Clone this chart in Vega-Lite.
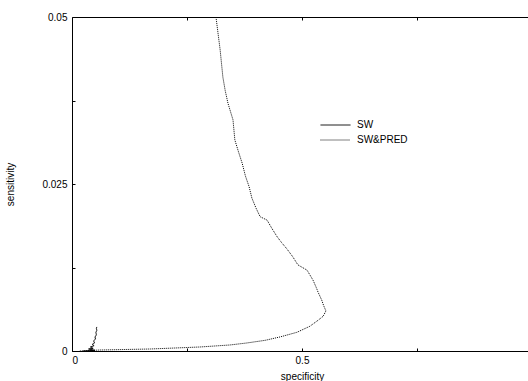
{
  "$schema": "https://vega.github.io/schema/vega-lite/v6.json",
  "width": 460,
  "height": 334,
  "autosize": {"type": "none"},
  "padding": {"left": 72, "top": 17, "right": 5, "bottom": 30},
  "background": "white",
  "config": {
    "view": {"stroke": "black", "strokeWidth": 1},
    "font": "Liberation Sans",
    "axis": {
      "domain": false,
      "grid": false,
      "ticks": true,
      "tickColor": "black",
      "tickSize": -3,
      "labelColor": "black",
      "labelFont": "Liberation Sans",
      "labelFontSize": 10,
      "titleFont": "Liberation Sans",
      "titleFontSize": 10,
      "titleFontWeight": "normal",
      "titleColor": "black"
    }
  },
  "data": {
    "values": [
      {"series": "SW", "order": 1, "specificity": 0.024, "sensitivity": 0.0},
      {"series": "SW", "order": 2, "specificity": 0.050, "sensitivity": 0.0001},
      {"series": "SW", "order": 3, "specificity": 0.036, "sensitivity": 0.0003},
      {"series": "SW", "order": 4, "specificity": 0.046, "sensitivity": 0.0004},
      {"series": "SW", "order": 5, "specificity": 0.040, "sensitivity": 0.0006},
      {"series": "SW", "order": 6, "specificity": 0.048, "sensitivity": 0.0008},
      {"series": "SW", "order": 7, "specificity": 0.044, "sensitivity": 0.0010},
      {"series": "SW", "order": 8, "specificity": 0.049, "sensitivity": 0.0012},
      {"series": "SW", "order": 9, "specificity": 0.047, "sensitivity": 0.0015},
      {"series": "SW", "order": 10, "specificity": 0.051, "sensitivity": 0.0018},
      {"series": "SW", "order": 11, "specificity": 0.050, "sensitivity": 0.0021},
      {"series": "SW", "order": 12, "specificity": 0.053, "sensitivity": 0.0024},
      {"series": "SW", "order": 13, "specificity": 0.052, "sensitivity": 0.0028},
      {"series": "SW", "order": 14, "specificity": 0.054, "sensitivity": 0.0031},
      {"series": "SW", "order": 15, "specificity": 0.053, "sensitivity": 0.0034},
      {"series": "SW", "order": 16, "specificity": 0.054, "sensitivity": 0.0036},
      {"series": "SW&PRED", "order": 1, "specificity": 0.017, "sensitivity": 0.0},
      {"series": "SW&PRED", "order": 2, "specificity": 0.061, "sensitivity": 0.00015},
      {"series": "SW&PRED", "order": 3, "specificity": 0.170, "sensitivity": 0.0003},
      {"series": "SW&PRED", "order": 4, "specificity": 0.278, "sensitivity": 0.0006},
      {"series": "SW&PRED", "order": 5, "specificity": 0.343, "sensitivity": 0.0009},
      {"series": "SW&PRED", "order": 6, "specificity": 0.380, "sensitivity": 0.0012},
      {"series": "SW&PRED", "order": 7, "specificity": 0.420, "sensitivity": 0.0016},
      {"series": "SW&PRED", "order": 8, "specificity": 0.452, "sensitivity": 0.0021},
      {"series": "SW&PRED", "order": 9, "specificity": 0.489, "sensitivity": 0.0028},
      {"series": "SW&PRED", "order": 10, "specificity": 0.517, "sensitivity": 0.0037},
      {"series": "SW&PRED", "order": 11, "specificity": 0.533, "sensitivity": 0.0045},
      {"series": "SW&PRED", "order": 12, "specificity": 0.546, "sensitivity": 0.0052},
      {"series": "SW&PRED", "order": 13, "specificity": 0.552, "sensitivity": 0.0060},
      {"series": "SW&PRED", "order": 14, "specificity": 0.547, "sensitivity": 0.0068},
      {"series": "SW&PRED", "order": 15, "specificity": 0.543, "sensitivity": 0.0076},
      {"series": "SW&PRED", "order": 16, "specificity": 0.535, "sensitivity": 0.0088},
      {"series": "SW&PRED", "order": 17, "specificity": 0.531, "sensitivity": 0.0095},
      {"series": "SW&PRED", "order": 18, "specificity": 0.524, "sensitivity": 0.0106},
      {"series": "SW&PRED", "order": 19, "specificity": 0.511, "sensitivity": 0.0121},
      {"series": "SW&PRED", "order": 20, "specificity": 0.491, "sensitivity": 0.0129},
      {"series": "SW&PRED", "order": 21, "specificity": 0.480, "sensitivity": 0.0141},
      {"series": "SW&PRED", "order": 22, "specificity": 0.467, "sensitivity": 0.0153},
      {"series": "SW&PRED", "order": 23, "specificity": 0.456, "sensitivity": 0.0162},
      {"series": "SW&PRED", "order": 24, "specificity": 0.446, "sensitivity": 0.0171},
      {"series": "SW&PRED", "order": 25, "specificity": 0.435, "sensitivity": 0.0183},
      {"series": "SW&PRED", "order": 26, "specificity": 0.424, "sensitivity": 0.0196},
      {"series": "SW&PRED", "order": 27, "specificity": 0.409, "sensitivity": 0.0201},
      {"series": "SW&PRED", "order": 28, "specificity": 0.400, "sensitivity": 0.0214},
      {"series": "SW&PRED", "order": 29, "specificity": 0.391, "sensitivity": 0.0229},
      {"series": "SW&PRED", "order": 30, "specificity": 0.385, "sensitivity": 0.0246},
      {"series": "SW&PRED", "order": 31, "specificity": 0.377, "sensitivity": 0.0262},
      {"series": "SW&PRED", "order": 32, "specificity": 0.370, "sensitivity": 0.0281},
      {"series": "SW&PRED", "order": 33, "specificity": 0.362, "sensitivity": 0.0298},
      {"series": "SW&PRED", "order": 34, "specificity": 0.354, "sensitivity": 0.0316},
      {"series": "SW&PRED", "order": 35, "specificity": 0.350, "sensitivity": 0.0346},
      {"series": "SW&PRED", "order": 36, "specificity": 0.339, "sensitivity": 0.0371},
      {"series": "SW&PRED", "order": 37, "specificity": 0.333, "sensitivity": 0.0390},
      {"series": "SW&PRED", "order": 38, "specificity": 0.328, "sensitivity": 0.0410},
      {"series": "SW&PRED", "order": 39, "specificity": 0.322, "sensitivity": 0.0451},
      {"series": "SW&PRED", "order": 40, "specificity": 0.313, "sensitivity": 0.0500}
    ]
  },
  "layer": [
    {
      "mark": {"type": "line", "color": "black", "strokeWidth": 1, "clip": true},
      "encoding": {
        "x": {
          "field": "specificity", "type": "quantitative",
          "scale": {"domain": [0, 1], "nice": false, "zero": false},
          "axis": {
            "orient": "bottom",
            "values": [0, 0.25, 0.5, 0.75],
            "labelExpr": "datum.value == 0 ? '0' : datum.value == 0.5 ? '0.5' : ''",
            "labelPadding": 7,
            "title": "specificity",
            "titlePadding": 6
          }
        },
        "y": {
          "field": "sensitivity", "type": "quantitative",
          "scale": {"domain": [0, 0.05], "nice": false, "zero": false},
          "axis": {
            "orient": "left",
            "values": [0, 0.0125, 0.025, 0.0375, 0.05],
            "labelExpr": "datum.value == 0 ? '0' : datum.value == 0.025 ? '0.025' : datum.value == 0.05 ? '0.05' : ''",
            "labelPadding": 8,
            "title": "sensitivity",
            "titlePadding": 26
          }
        },
        "order": {"field": "order", "type": "quantitative"},
        "strokeDash": {
          "field": "series", "type": "nominal",
          "scale": {"domain": ["SW", "SW&PRED"], "range": [[1, 0], [1, 1]]},
          "legend": {
            "title": null,
            "orient": "none",
            "legendX": 248,
            "legendY": 101,
            "symbolType": "stroke",
            "symbolSize": 900,
            "symbolStrokeWidth": 1,
            "symbolStrokeColor": "black",
            "labelFont": "Liberation Sans",
            "labelFontSize": 10,
            "labelColor": "black",
            "labelOffset": 6,
            "clipHeight": 14,
            "rowPadding": 1
          }
        }
      }
    },
    {
      "mark": {"type": "line", "opacity": 0},
      "encoding": {
        "x": {
          "field": "specificity", "type": "quantitative",
          "axis": {"orient": "top", "values": [0.25, 0.5, 0.75], "labels": false, "title": null}
        },
        "y": {
          "field": "sensitivity", "type": "quantitative",
          "axis": {"orient": "right", "values": [0.0125, 0.025, 0.0375], "labels": false, "title": null}
        },
        "detail": {"field": "series", "type": "nominal"},
        "order": {"field": "order", "type": "quantitative"}
      }
    }
  ],
  "resolve": {"axis": {"x": "independent", "y": "independent"}}
}
